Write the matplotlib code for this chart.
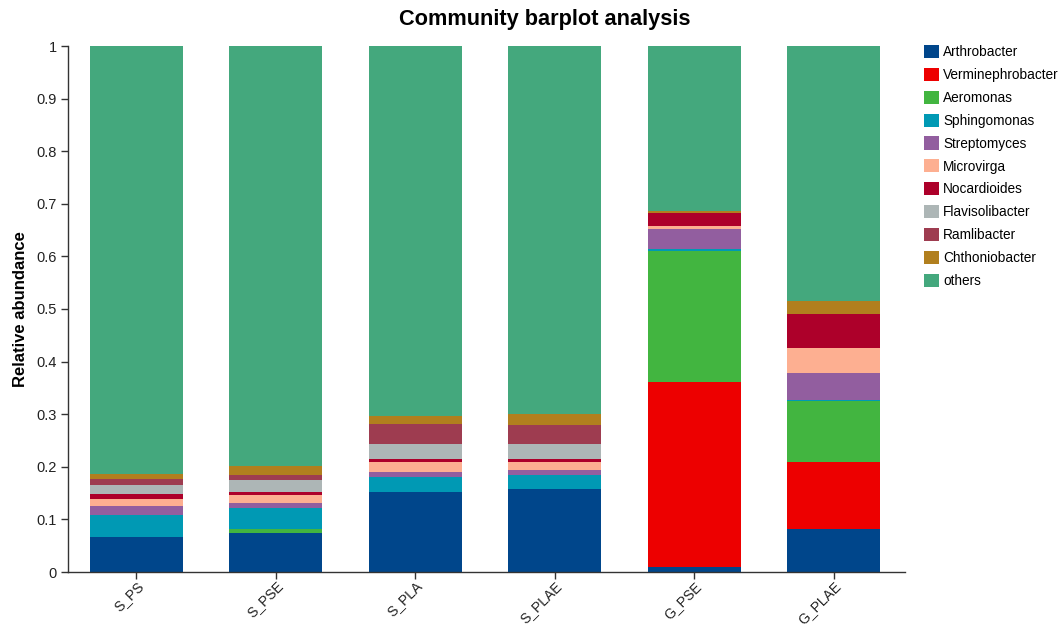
import matplotlib
matplotlib.use("Agg")
import matplotlib.pyplot as plt
from matplotlib.patches import Patch
import numpy as np

plt.rcParams['font.family'] = ['Liberation Sans', 'DejaVu Sans']

samples = ["S_PS", "S_PSE", "S_PLA", "S_PLAE", "G_PSE", "G_PLAE"]

# Relative abundance of each genus per sample (stacked bottom to top)
arthrobacter      = [0.066, 0.075, 0.152, 0.157, 0.009, 0.081]
verminephrobacter = [0.000, 0.000, 0.000, 0.000, 0.352, 0.129]
aeromonas         = [0.000, 0.006, 0.001, 0.001, 0.250, 0.116]
sphingomonas      = [0.042, 0.040, 0.028, 0.027, 0.003, 0.001]
streptomyces      = [0.017, 0.011, 0.009, 0.008, 0.038, 0.052]
microvirga        = [0.014, 0.015, 0.020, 0.017, 0.006, 0.046]
nocardioides      = [0.009, 0.006, 0.005, 0.005, 0.025, 0.066]
flavisolibacter   = [0.018, 0.022, 0.029, 0.028, 0.000, 0.000]
ramlibacter       = [0.010, 0.009, 0.037, 0.036, 0.000, 0.000]
chthoniobacter    = [0.011, 0.018, 0.015, 0.022, 0.003, 0.024]
others            = [0.813, 0.798, 0.704, 0.699, 0.314, 0.485]

genera = ["Arthrobacter", "Verminephrobacter", "Aeromonas", "Sphingomonas",
          "Streptomyces", "Microvirga", "Nocardioides", "Flavisolibacter",
          "Ramlibacter", "Chthoniobacter", "others"]
series = [arthrobacter, verminephrobacter, aeromonas, sphingomonas,
          streptomyces, microvirga, nocardioides, flavisolibacter,
          ramlibacter, chthoniobacter, others]
colors = ["#00468B", "#ED0000", "#42B540", "#0099B4", "#925E9F", "#FDAF91",
          "#AD002A", "#ADB6B6", "#9E3C50", "#B17F1E", "#44A87D"]

fig = plt.figure(figsize=(10.6, 6.28), dpi=100)
ax = fig.add_axes([68 / 1060, 1 - 572 / 628, 837 / 1060, 526 / 628])

x = np.arange(len(samples))
bottom = np.zeros(len(samples))
for name, vals, col in zip(genera, series, colors):
    v = np.array(vals)
    ax.bar(x, v, width=0.667, bottom=bottom, color=col, edgecolor='none',
           linewidth=0, label=name)
    bottom += v

ax.set_xlim(-0.49, 5.51)
ax.set_ylim(0, 1)
ax.set_yticks(np.arange(0, 1.01, 0.1))
ax.set_yticklabels(["0", "0.1", "0.2", "0.3", "0.4", "0.5", "0.6", "0.7",
                    "0.8", "0.9", "1"])
ax.set_xticks(x)
ax.set_xticklabels(samples, rotation=45, ha='right', rotation_mode='anchor')

for side in ['top', 'right']:
    ax.spines[side].set_visible(False)
for side in ['left', 'bottom']:
    ax.spines[side].set_color('#333333')
    ax.spines[side].set_linewidth(1.0)
ax.tick_params(axis='both', direction='out', length=5, width=1,
               color='#333333', labelcolor='#222222')
ax.tick_params(axis='y', labelsize=10.5, pad=3)
ax.tick_params(axis='x', labelsize=10, pad=0)

ax.set_ylabel("Relative abundance", fontsize=12, fontweight='bold',
              labelpad=6)
fig.text(545 / 1060, 1 - 20 / 628, "Community barplot analysis",
         ha='center', va='center', fontsize=15.7, fontweight='bold')

handles = [Patch(facecolor=c, edgecolor='none') for c in colors]
fig.legend(handles, genera, loc='upper left',
           bbox_to_anchor=(924 / 1060, 1 - 45 / 628),
           frameon=False, fontsize=9.8, handlelength=1.1, handleheight=1.1,
           handletextpad=0.3, labelspacing=0.64, borderpad=0, borderaxespad=0)

fig.savefig("out.png", dpi=100)
